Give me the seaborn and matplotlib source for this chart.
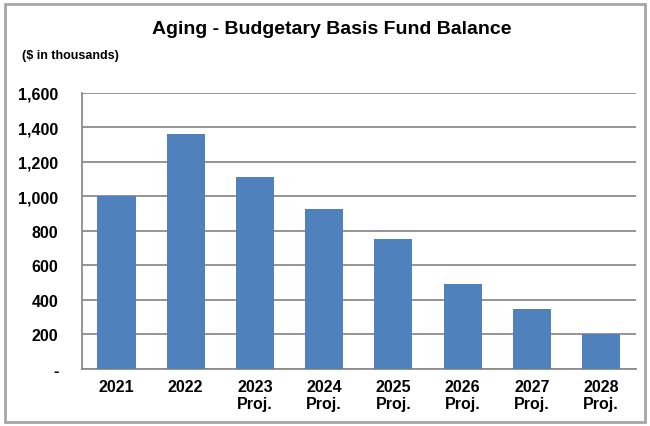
import matplotlib
matplotlib.use("Agg")
import matplotlib.pyplot as plt
from matplotlib.patches import Rectangle
import seaborn as sns
import pandas as pd

years = ["2021", "2022", "2023\nProj.", "2024\nProj.", "2025\nProj.", "2026\nProj.", "2027\nProj.", "2028\nProj."]
balance = [1000, 1363, 1112, 926, 755, 492, 348, 200]
y_ticks = [0, 200, 400, 600, 800, 1000, 1200, 1400, 1600]
y_tick_labels = ["-", "200", "400", "600", "800", "1,000", "1,200", "1,400", "1,600"]

sns.set_style("white")
plt.rcParams['font.family'] = ['Liberation Sans', 'DejaVu Sans']
plt.rcParams['text.color'] = 'black'
plt.rcParams['xtick.color'] = 'black'
plt.rcParams['ytick.color'] = 'black'

df = pd.DataFrame({"year": years, "balance": balance})

fig = plt.figure(figsize=(6.5, 4.27), dpi=100)
ax = fig.add_axes([0.126, 0.1335, 0.852, 0.647])

sns.barplot(data=df, x="year", y="balance", color="#4F81BD", saturation=1,
            width=0.55, linewidth=0, ax=ax, zorder=3)

ax.set_ylim(0, 1600)
ax.set_yticks(y_ticks)
ax.set_yticklabels(y_tick_labels, fontsize=11.5, fontweight='bold')
for lbl in ax.get_xticklabels():
    lbl.set_fontsize(11.5)
    lbl.set_fontweight('bold')
ax.set_xlabel("")
ax.set_ylabel("")
ax.yaxis.grid(True, color="#8c8c8c", linewidth=1.3, zorder=0)
ax.set_axisbelow(True)
ax.tick_params(axis='y', length=0, pad=17)
ax.tick_params(axis='x', length=0, pad=7)
for s in ["top", "right"]:
    ax.spines[s].set_visible(False)
for s in ["left", "bottom"]:
    ax.spines[s].set_color("#8c8c8c")
    ax.spines[s].set_linewidth(1.3)

fig.text(0.51, 0.93, "Aging - Budgetary Basis Fund Balance", ha='center', va='center',
         fontsize=14, fontweight='bold')
fig.text(0.034, 0.87, "($ in thousands)", ha='left', va='center',
         fontsize=9, fontweight='bold')

fig.patches.append(Rectangle((0.008, 0.01), 0.984, 0.978, transform=fig.transFigure,
                             fill=False, edgecolor="#a6a6a6", linewidth=2))

fig.savefig("out.png", dpi=100)
